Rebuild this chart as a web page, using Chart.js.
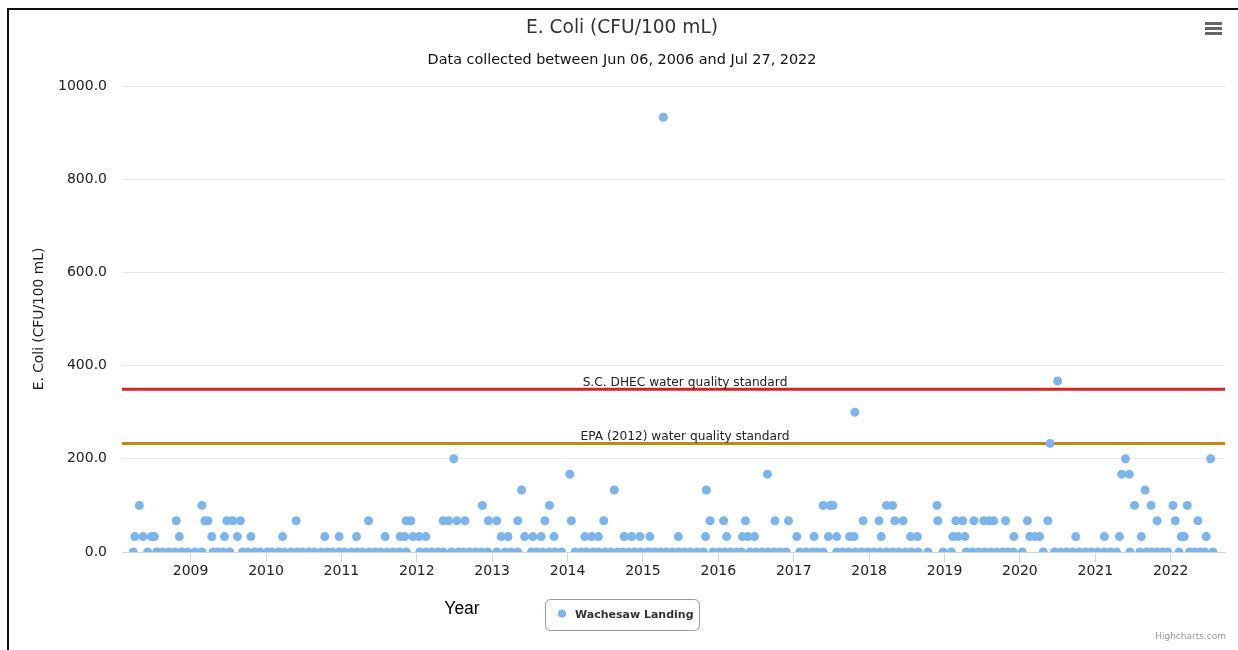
<!DOCTYPE html>
<html>
<head>
<meta charset="utf-8">
<script src="https://cdn.jsdelivr.net/npm/chart.js@4.4.1/dist/chart.umd.min.js"></script>
<style>
  body { margin: 0; background: #fff; }
  canvas { display: block; }
</style>
</head>
<body>
<canvas id="ecoliChart" width="1238" height="650"></canvas>
<script>
// sample dates (decimal years) grouped by E. coli result (CFU/100 mL)
const yearsAt0 = [
  2008.24, 2008.43, 2008.55, 2008.63, 2008.71, 2008.79, 2008.88, 2008.96, 2009.06, 2009.15, 2009.30, 2009.36, 2009.43, 2009.52,
  2009.69, 2009.76, 2009.85, 2009.92, 2010.02, 2010.08, 2010.17, 2010.24, 2010.33, 2010.41, 2010.48, 2010.57, 2010.64, 2010.73,
  2010.81, 2010.88, 2010.97, 2011.04, 2011.13, 2011.21, 2011.28, 2011.37, 2011.45, 2011.52, 2011.61, 2011.69, 2011.77, 2011.86,
  2012.04, 2012.12, 2012.20, 2012.28, 2012.35, 2012.46, 2012.55, 2012.62, 2012.70, 2012.78, 2012.86, 2012.94, 2013.06,
  2013.17, 2013.25, 2013.34, 2013.52, 2013.59, 2013.67, 2013.76, 2013.83, 2013.92,
  2014.10, 2014.18, 2014.25, 2014.34, 2014.41, 2014.50, 2014.57, 2014.66, 2014.73, 2014.81, 2014.89, 2014.97, 2015.05,
  2015.09, 2015.16, 2015.24, 2015.31, 2015.39, 2015.47, 2015.55, 2015.63, 2015.72, 2015.80,
  2015.93, 2016.01, 2016.08, 2016.16, 2016.24, 2016.31,
  2016.42, 2016.50, 2016.58, 2016.66, 2016.74, 2016.82, 2016.90,
  2017.08, 2017.16, 2017.24, 2017.31, 2017.39,
  2017.57, 2017.65, 2017.73, 2017.82, 2017.90,
  2017.98, 2018.06, 2018.14, 2018.23, 2018.31, 2018.39, 2018.48, 2018.56, 2018.65,
  2018.78, 2018.98, 2019.09,
  2019.29, 2019.37, 2019.45, 2019.53, 2019.61, 2019.69, 2019.77, 2019.84, 2019.91,
  2020.03, 2020.31,
  2020.46, 2020.54, 2020.62, 2020.70, 2020.79, 2020.87, 2020.95, 2021.03, 2021.12, 2021.20, 2021.28,
  2021.46, 2021.59,
  2021.68, 2021.75, 2021.82, 2021.89, 2021.96,
  2022.11, 2022.25, 2022.32, 2022.39, 2022.45, 2022.56
];
const yearsAt33 = [
  2008.26, 2008.37, 2008.48, 2008.52, 2008.85, 2009.28, 2009.45, 2009.62, 2009.80, 2010.22, 2010.78, 2010.97,
  2011.20, 2011.58, 2011.78, 2011.84, 2011.95, 2012.03, 2012.12, 2013.12, 2013.21, 2013.43, 2013.54, 2013.65,
  2013.82, 2014.23, 2014.32, 2014.41, 2014.75, 2014.85, 2014.96, 2015.09, 2015.47, 2015.83, 2016.11, 2016.32,
  2016.39, 2016.48, 2017.04, 2017.27, 2017.46, 2017.57, 2017.74, 2017.80, 2018.16, 2018.55, 2018.64, 2019.11,
  2019.18, 2019.27, 2019.92, 2020.13, 2020.20, 2020.26, 2020.74, 2021.12, 2021.32, 2021.61, 2022.14, 2022.18, 2022.47
];
const yearsAt67 = [
  2008.81, 2009.19, 2009.23, 2009.48, 2009.56, 2009.66, 2010.40, 2011.36, 2011.86, 2011.92, 2012.35, 2012.42,
  2012.53, 2012.64, 2012.95, 2013.06, 2013.34, 2013.70, 2014.05, 2014.48, 2015.89, 2016.07, 2016.36, 2016.75,
  2016.93, 2017.92, 2018.13, 2018.34, 2018.45, 2018.91, 2019.15, 2019.24, 2019.39, 2019.52, 2019.59, 2019.65,
  2019.81, 2020.10, 2020.37, 2021.82, 2022.06, 2022.36
];
const yearsAt100 = [2008.32, 2009.15, 2012.87, 2013.76, 2017.39, 2017.48, 2017.52, 2018.23, 2018.31, 2018.90, 2021.52, 2021.74, 2022.03, 2022.22];
const yearsAt133 = [2013.39, 2014.62, 2015.84, 2021.66];
const yearsAt167 = [2014.03, 2016.65, 2021.35, 2021.45];
const yearsAt200 = [2012.49, 2021.40, 2022.53];
const yearsAt233 = [2020.40];
const yearsAt300 = [2017.81];
const yearsAt367 = [2020.50];
const yearsAt933 = [2015.27];

const resultLevels = [0, 33, 67, 100, 133, 167, 200, 233, 300, 367, 933];
const yearsByLevel = [yearsAt0, yearsAt33, yearsAt67, yearsAt100, yearsAt133, yearsAt167, yearsAt200, yearsAt233, yearsAt300, yearsAt367, yearsAt933];

const yearTicks = [2009, 2010, 2011, 2012, 2013, 2014, 2015, 2016, 2017, 2018, 2019, 2020, 2021, 2022];
const valueTicks = [0, 200, 400, 600, 800, 1000];

const standards = [
  { label: 'S.C. DHEC water quality standard', value: 349, color: '#d92323' },
  { label: 'EPA (2012) water quality standard', value: 233, color: '#c98611' }
];

const seriesName = 'Wachesaw Landing';
const pointColor = '#7cb5ec';
const hcFont = '"DejaVu Sans", "Lucida Grande", sans-serif';

let points = [];
yearsByLevel.forEach((years, i) => {
  years.forEach(yr => points.push({ x: yr, y: resultLevels[i] }));
});

// plot lines go under the points
const standardLines = {
  id: 'standardLines',
  beforeDatasetsDraw(chart) {
    const { ctx, chartArea } = chart;
    const yScale = chart.scales.y;
    ctx.save();
    standards.forEach(s => {
      const py = yScale.getPixelForValue(s.value);
      ctx.strokeStyle = s.color;
      ctx.lineWidth = 3;
      ctx.beginPath();
      ctx.moveTo(chartArea.left, py);
      ctx.lineTo(chartArea.right, py);
      ctx.stroke();
      ctx.fillStyle = '#222';
      ctx.font = '12.2px ' + hcFont;
      ctx.textAlign = 'center';
      ctx.textBaseline = 'alphabetic';
      ctx.fillText(s.label, 685, py - 3);
    });
    ctx.restore();
  }
};

const decorations = {
  id: 'decorations',
  afterDraw(chart) {
    const ctx = chart.ctx;
    ctx.save();

    // page frame
    ctx.fillStyle = '#111';
    ctx.fillRect(7, 8, 1231, 2);
    ctx.fillRect(7, 8, 2, 642);

    // title + subtitle
    ctx.textAlign = 'center';
    ctx.textBaseline = 'middle';
    ctx.fillStyle = '#333';
    ctx.font = '18.6px ' + hcFont;
    ctx.fillText('E. Coli (CFU/100 mL)', 622, 28);
    ctx.fillStyle = '#111';
    ctx.font = '14.4px ' + hcFont;
    ctx.fillText('Data collected between Jun 06, 2006 and Jul 27, 2022', 622, 60);

    // context menu button
    ctx.strokeStyle = '#666';
    ctx.lineWidth = 3;
    [23.5, 28.5, 33.5].forEach(y => {
      ctx.beginPath();
      ctx.moveTo(1205, y);
      ctx.lineTo(1222, y);
      ctx.stroke();
    });

    // x axis title
    ctx.fillStyle = '#000';
    ctx.font = '17.5px "Liberation Sans", Arial, sans-serif';
    ctx.fillText('Year', 462, 609);

    // legend box
    ctx.strokeStyle = '#999';
    ctx.lineWidth = 1;
    ctx.beginPath();
    ctx.roundRect(545.5, 599.5, 154, 31, 5);
    ctx.stroke();
    ctx.fillStyle = pointColor;
    ctx.beginPath();
    ctx.arc(562, 613.5, 4, 0, Math.PI * 2);
    ctx.fill();
    ctx.fillStyle = '#333';
    ctx.font = 'bold 11px ' + hcFont;
    ctx.textAlign = 'left';
    ctx.fillText(seriesName, 575, 615);

    // credits
    ctx.fillStyle = '#999';
    ctx.font = '9px ' + hcFont;
    ctx.textAlign = 'right';
    ctx.fillText('Highcharts.com', 1226, 637);

    ctx.restore();
  }
};

const ctx = document.getElementById('ecoliChart').getContext('2d');
const ecoliChart = new Chart(ctx, {
  type: 'scatter',
  data: {
    datasets: [{
      label: seriesName,
      data: points,
      backgroundColor: pointColor,
      borderWidth: 0,
      pointRadius: 4.5,
      pointHoverRadius: 5
    }]
  },
  options: {
    responsive: false,
    animation: false,
    layout: { padding: { top: 86, right: 13, bottom: 0, left: 0 } },
    plugins: {
      legend: { display: false },
      title: { display: false },
      tooltip: { enabled: false }
    },
    scales: {
      x: {
        type: 'linear',
        min: 2008.09,
        max: 2022.72,
        afterBuildTicks: scale => { scale.ticks = yearTicks.map(v => ({ value: v })); },
        afterFit: scale => { scale.height = 98; },
        grid: { drawOnChartArea: false, color: '#ccd6eb', tickLength: 10 },
        border: { color: '#ccd6eb' },
        ticks: {
          callback: v => String(v),
          color: '#222',
          font: { family: hcFont, size: 14 },
          padding: 1,
          maxRotation: 0,
          autoSkip: false
        }
      },
      y: {
        min: 0,
        max: 1000,
        afterBuildTicks: scale => { scale.ticks = valueTicks.map(v => ({ value: v })); },
        afterFit: scale => { scale.width = 122; },
        grid: { color: '#e6e6e6', drawTicks: false },
        border: { display: false },
        ticks: {
          callback: v => v.toFixed(1),
          color: '#222',
          font: { family: hcFont, size: 14 },
          padding: 15
        },
        title: {
          display: true,
          text: 'E. Coli (CFU/100 mL)',
          color: '#222',
          font: { family: hcFont, size: 13.8 },
          padding: { top: 31, bottom: 0 }
        }
      }
    }
  },
  plugins: [standardLines, decorations]
});
</script>
</body>
</html>
